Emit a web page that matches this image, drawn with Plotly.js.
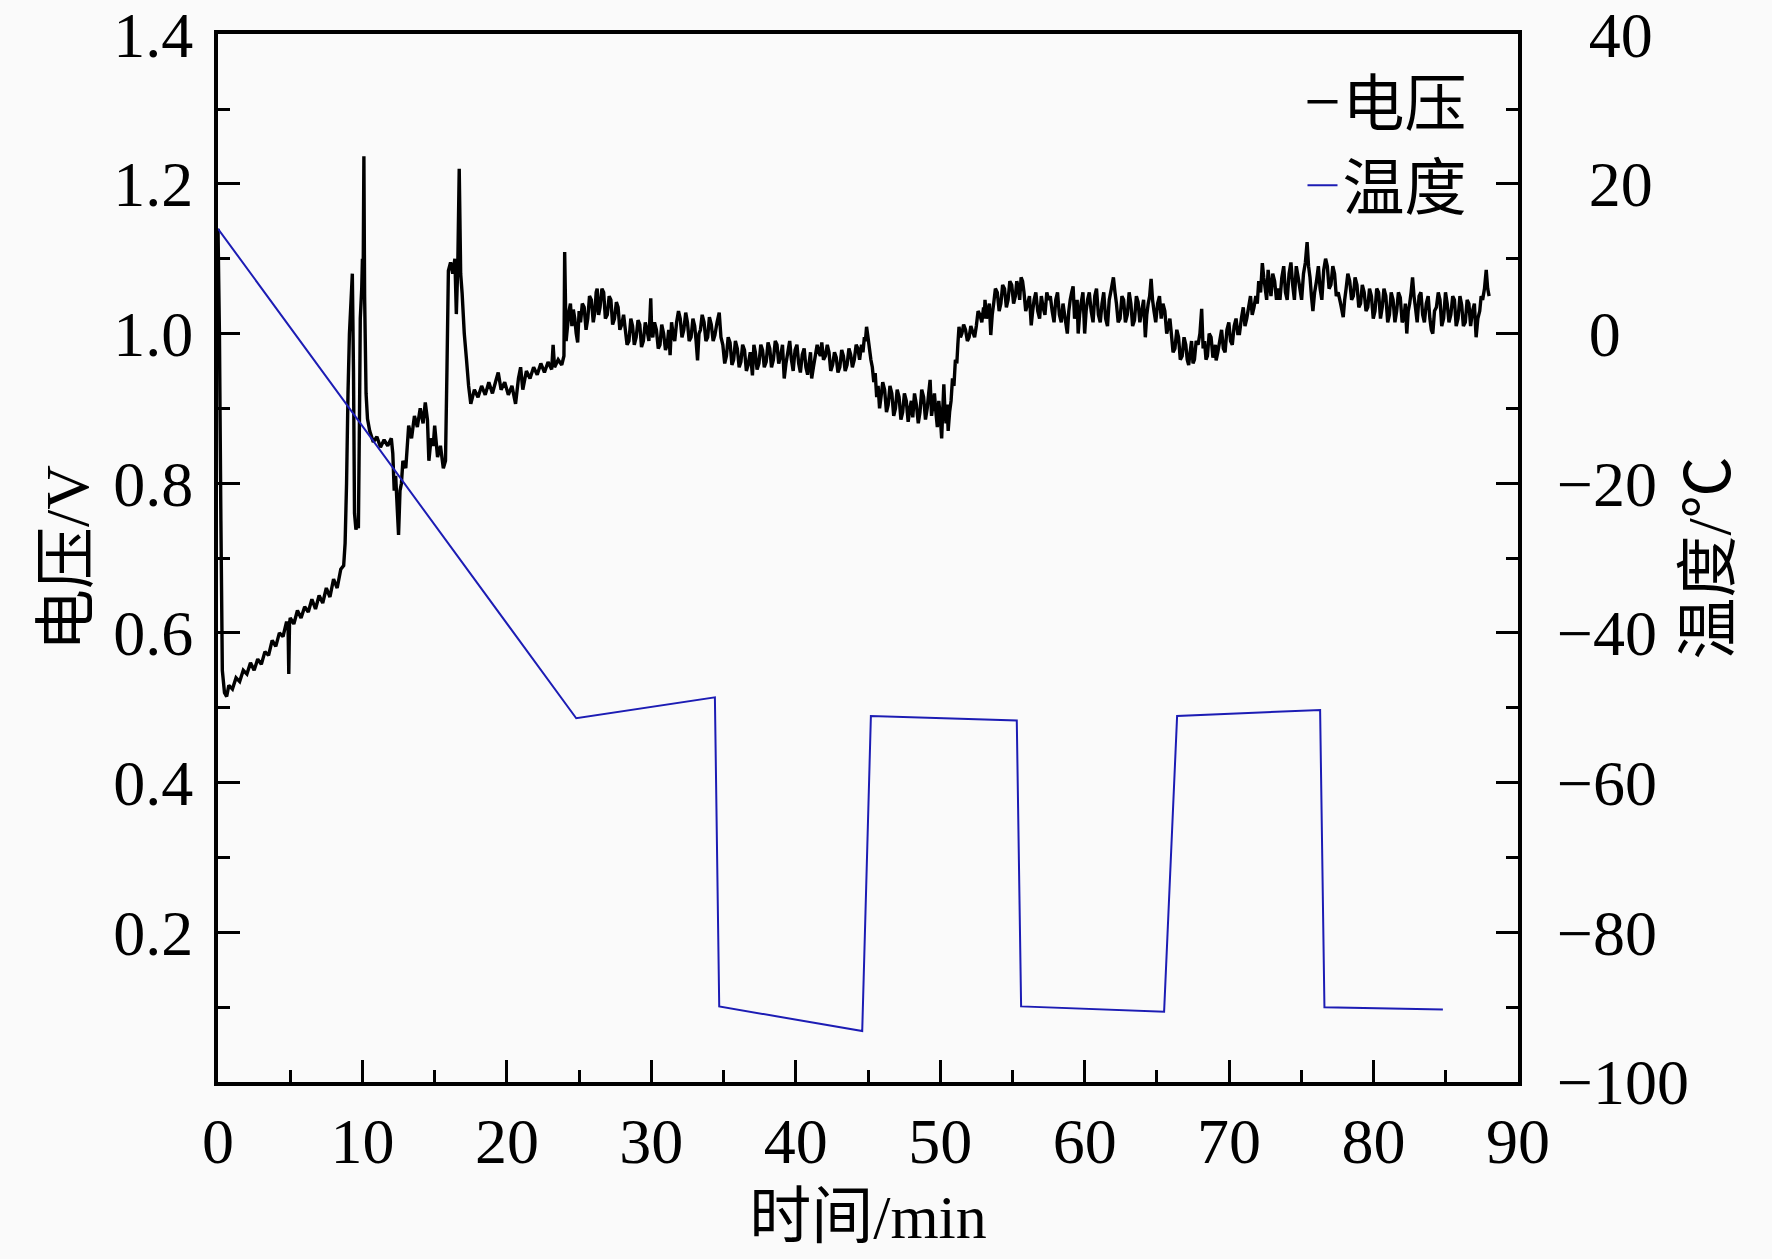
<!DOCTYPE html>
<html>
<head>
<meta charset="utf-8">
<script src="https://cdn.plot.ly/plotly-3.0.1.min.js"></script>
<style>
  html, body { margin: 0; padding: 0; background: #fafafa; }
</style>
</head>
<body>
<div id="chart"></div>
<script>
// voltage trace (min / V)
var voltTime = [
  0, 0.1, 0.2, 0.3, 0.45, 0.6,
  0.75, 1.0, 1.25, 1.5, 1.75, 2.0, 2.25, 2.5, 2.75, 3.0, 3.25, 3.5, 3.75, 4.0, 4.25, 4.5, 4.75, 4.85, 4.9, 4.95, 5.0, 5.25, 5.5, 5.75, 6.0, 6.25, 6.5, 6.75, 7.0, 7.25, 7.5, 7.75, 8.0, 8.25, 8.5, 8.7,
  8.8, 8.9, 9.0, 9.1, 9.2, 9.3, 9.38, 9.45, 9.55, 9.65, 9.72, 9.8, 9.85, 9.95, 10.0, 10.05, 10.1, 10.15, 10.25, 10.35,
  10.5, 10.75, 11.0, 11.25, 11.5, 11.75, 12.0, 12.1, 12.2, 12.3, 12.4, 12.5, 12.6, 12.7, 12.8, 13.0, 13.2, 13.4, 13.6, 13.8, 14.0, 14.2, 14.35, 14.5, 14.6, 14.75, 14.9, 15.0, 15.2, 15.4, 15.6, 15.75,
  15.85, 15.95, 16.1, 16.25, 16.4, 16.5, 16.6, 16.7, 16.8, 16.9, 17.05, 17.2, 17.35, 17.5,
  17.75, 18.0, 18.25, 18.5, 18.75, 19.0, 19.25, 19.4, 19.6, 19.85, 20.1, 20.35, 20.6, 20.8, 20.95, 21.1, 21.35, 21.6, 21.85, 22.1, 22.35, 22.6, 22.85, 23.1, 23.2, 23.3, 23.55, 23.8, 23.95, 24.0, 24.1, 24.3,
  24.4, 24.5, 24.6, 24.7, 24.8, 24.9, 25.0, 25.1, 25.22, 25.35, 25.48, 25.6, 25.72, 25.85, 25.98, 26.1, 26.18, 26.25, 26.35, 26.45, 26.58, 26.7, 26.82, 26.95, 27.08, 27.2, 27.32, 27.45, 27.58, 27.7, 27.82, 27.95,
  28.08, 28.2, 28.32, 28.45, 28.58, 28.7, 28.82, 28.95, 29.08, 29.2, 29.32, 29.45, 29.58, 29.7, 29.83, 29.96, 30.03, 30.1, 30.22, 30.35, 30.48, 30.6, 30.72, 30.85, 30.98, 31.1, 31.2, 31.3,
  31.4, 31.5, 31.62, 31.75, 31.88, 32.0, 32.12, 32.25, 32.38, 32.5, 32.62, 32.75, 32.88, 33.0, 33.1, 33.2, 33.3, 33.4, 33.52, 33.65, 33.78, 33.9, 34.02, 34.15, 34.28, 34.4, 34.55, 34.7,
  34.82, 34.95, 35.08, 35.2, 35.32, 35.45, 35.58, 35.7, 35.82, 35.95, 36.08, 36.2, 36.32, 36.45, 36.58, 36.7,
  36.85, 37.0, 37.1, 37.2, 37.32, 37.45, 37.58, 37.7, 37.82, 37.95, 38.08, 38.2, 38.32, 38.45, 38.58, 38.7,
  38.82, 38.95, 39.08, 39.2, 39.32, 39.45, 39.58, 39.7, 39.82, 39.95, 40.08, 40.2, 40.32, 40.45, 40.58, 40.7,
  40.82, 40.95, 41.02, 41.1, 41.22, 41.35, 41.48, 41.6, 41.7, 41.8, 41.92, 42.05, 42.18, 42.3, 42.42, 42.55,
  42.68, 42.8, 42.92, 43.05, 43.18, 43.3, 43.42, 43.55, 43.68, 43.8, 43.92, 44.05, 44.18, 44.3, 44.42, 44.55,
  44.65, 44.75, 44.82, 44.9,
  45.0, 45.1, 45.2, 45.3, 45.4, 45.5, 45.6, 45.7, 45.8, 45.9, 46.02, 46.15, 46.28, 46.4, 46.52, 46.65,
  46.78, 46.9, 47.02, 47.15, 47.28, 47.4, 47.52, 47.65, 47.78, 47.9, 48.0, 48.1, 48.22, 48.35, 48.48, 48.6,
  48.72, 48.85, 48.98, 49.1, 49.2, 49.3, 49.4, 49.5, 49.6, 49.7, 49.8, 49.9, 50.0, 50.1, 50.18, 50.25,
  50.32, 50.4, 50.48, 50.55, 50.65, 50.75, 50.85, 50.95, 51.05, 51.15, 51.22, 51.3,
  51.4, 51.5, 51.62, 51.75, 51.88, 52.0, 52.12, 52.25, 52.38, 52.5, 52.62, 52.75, 52.88, 53.0, 53.05, 53.1,
  53.2, 53.3, 53.4, 53.5, 53.6, 53.7, 53.82, 53.95, 54.08, 54.2, 54.32, 54.45, 54.58, 54.7, 54.82, 54.95,
  55.08, 55.2, 55.3, 55.4, 55.5, 55.6, 55.7, 55.8, 55.92, 56.05, 56.18, 56.3, 56.4, 56.5, 56.62, 56.75,
  56.88, 57.0, 57.12, 57.25, 57.38, 57.5,
  57.62, 57.75, 57.88, 58.0, 58.12, 58.25, 58.38, 58.5, 58.65, 58.8, 58.9, 59.0, 59.1, 59.2, 59.3, 59.4,
  59.48, 59.55, 59.65, 59.75, 59.88, 60.0, 60.1, 60.2, 60.32, 60.45, 60.58, 60.7, 60.82, 60.95, 61.08, 61.2,
  61.32, 61.45, 61.58, 61.7, 61.85, 61.99, 62.1, 62.2, 62.32, 62.45, 62.58, 62.7, 62.82, 62.95, 63.08, 63.2,
  63.32, 63.45, 63.58, 63.7, 63.82, 63.95, 64.08, 64.2, 64.3, 64.4, 64.5, 64.6, 64.7, 64.8, 64.92, 65.05,
  65.18, 65.3, 65.42, 65.55, 65.68, 65.8,
  65.9, 66.0, 66.12, 66.25, 66.38, 66.5, 66.62, 66.75, 66.88, 67.0, 67.1, 67.2, 67.3, 67.4, 67.5, 67.6,
  67.72, 67.85, 67.98, 68.1, 68.2, 68.3, 68.4, 68.5, 68.62, 68.75, 68.88, 69.0, 69.05, 69.1, 69.22, 69.35,
  69.48, 69.6, 69.72, 69.85, 69.98, 70.1, 70.22, 70.35, 70.48, 70.6,
  70.72, 70.85, 70.98, 71.1, 71.22, 71.35, 71.48, 71.6, 71.72, 71.85, 71.95, 72.05, 72.18, 72.3, 72.4, 72.5,
  72.6, 72.7, 72.8, 72.9, 73.02, 73.15, 73.28, 73.4,
  73.52, 73.65, 73.78, 73.9, 74.02, 74.15, 74.28, 74.4, 74.52, 74.65, 74.78, 74.9, 75.02, 75.15, 75.28, 75.4,
  75.5, 75.6, 75.7, 75.8, 75.92, 76.05, 76.18, 76.3, 76.42, 76.55, 76.68, 76.8, 76.92, 77.05, 77.18, 77.3,
  77.42, 77.55, 77.72, 77.9, 78.0, 78.1, 78.22, 78.35, 78.48, 78.6, 78.72, 78.85, 78.98, 79.1, 79.22, 79.35,
  79.48, 79.6,
  79.72, 79.85, 79.98, 80.1, 80.22, 80.35, 80.48, 80.6, 80.72, 80.85, 80.98, 81.1, 81.22, 81.35, 81.48, 81.6,
  81.72, 81.85, 81.98, 82.1, 82.2, 82.3, 82.4, 82.5, 82.6, 82.7, 82.8, 82.9, 83.02, 83.15, 83.28, 83.4,
  83.52, 83.65, 83.78, 83.9, 84.0, 84.1, 84.22, 84.35, 84.48, 84.6, 84.72, 84.85, 84.98, 85.1, 85.22, 85.35,
  85.48, 85.6, 85.72, 85.85, 85.98, 86.1, 86.22, 86.35, 86.48, 86.6, 86.72, 86.85, 86.98, 87.1, 87.22, 87.35,
  87.45, 87.55, 87.68, 87.8, 87.9, 88.0
];
var voltValue = [
  1.14, 1.0, 0.75, 0.55, 0.52, 0.515,
  0.53, 0.525, 0.54, 0.535, 0.55, 0.545, 0.56, 0.55, 0.565, 0.558, 0.575, 0.57, 0.59, 0.582, 0.6, 0.595, 0.615, 0.61, 0.545, 0.612, 0.62, 0.612, 0.63, 0.62, 0.635, 0.628, 0.645, 0.632, 0.65, 0.64, 0.66, 0.648, 0.672, 0.66, 0.685, 0.69,
  0.72, 0.80, 0.92, 1.0, 1.04, 1.08, 0.95, 0.76, 0.738, 0.745, 0.74, 0.9, 1.02, 1.06, 1.1, 1.08, 1.237, 1.05, 0.92, 0.886,
  0.87, 0.855, 0.862, 0.848, 0.858, 0.85, 0.86, 0.84, 0.79, 0.81, 0.77, 0.731, 0.79, 0.80, 0.83, 0.82, 0.877, 0.86, 0.89, 0.875, 0.9, 0.88, 0.908, 0.885, 0.83, 0.86, 0.85, 0.877, 0.835, 0.85, 0.82, 0.83,
  0.95, 1.084, 1.095, 1.08, 1.1, 1.026, 1.09, 1.22, 1.08, 1.054, 1.0, 0.966, 0.93, 0.906,
  0.925, 0.915, 0.93, 0.918, 0.935, 0.92, 0.938, 0.948, 0.925, 0.935, 0.918, 0.93, 0.906, 0.94, 0.955, 0.925, 0.95, 0.94, 0.955, 0.945, 0.96, 0.948, 0.962, 0.952, 0.985, 0.955, 0.965, 0.958, 0.97, 1.109, 0.99, 1.03,
  1.04, 1.01, 1.032, 1.02, 1.0, 0.988, 1.03, 1.015, 1.04, 1.035, 1.005, 1.02, 1.05, 1.045, 1.015, 1.03, 1.055, 1.06, 1.025, 1.035, 1.06, 1.055, 1.02, 1.025, 1.05, 1.045, 1.012, 1.02, 1.042, 1.035, 1.005, 1.012,
  1.025, 1.005, 0.985, 0.99, 1.02, 1.01, 0.985, 0.995, 1.018, 1.012, 0.982, 0.99, 1.015, 1.005, 0.99, 1.047, 1.0, 0.995, 1.015, 1.005, 0.98, 0.985, 1.012, 1.0, 0.978, 0.985, 1.005, 0.971,
  1.015, 1.0, 0.99, 1.015, 1.03, 1.02, 0.995, 1.005, 1.028, 1.015, 0.99, 0.995, 1.02, 1.01, 0.99, 0.964, 1.0, 1.005, 1.025, 1.015, 0.99, 0.995, 1.022, 1.012, 0.99, 0.998, 1.015, 1.028,
  0.995, 0.985, 0.96, 0.97, 0.995, 0.988, 0.958, 0.965, 0.99, 0.98, 0.955, 0.962, 0.985, 0.978, 0.95, 0.958,
  0.975, 0.944, 0.985, 0.975, 0.952, 0.96, 0.985, 0.978, 0.955, 0.962, 0.988, 0.98, 0.955, 0.965, 0.99, 0.985,
  0.96, 0.97, 0.985, 0.94, 0.96, 0.975, 0.99, 0.965, 0.95, 0.978, 0.985, 0.96, 0.948, 0.972, 0.98, 0.955,
  0.945, 0.965, 0.975, 0.94, 0.955, 0.97, 0.985, 0.975, 0.97, 0.988, 0.965, 0.97, 0.985, 0.975, 0.95, 0.958,
  0.975, 0.968, 0.948, 0.955, 0.978, 0.97, 0.95, 0.958, 0.98, 0.972, 0.955, 0.965, 0.985, 0.98, 0.965, 0.985,
  0.975, 0.995, 0.99, 1.009,
  0.995, 0.98, 0.965, 0.955, 0.935, 0.947, 0.915, 0.93, 0.9, 0.915, 0.935, 0.925, 0.895, 0.905, 0.93, 0.92,
  0.89, 0.9, 0.925, 0.915, 0.885, 0.895, 0.92, 0.91, 0.882, 0.9, 0.91, 0.888, 0.92, 0.905, 0.88, 0.895,
  0.925, 0.915, 0.885, 0.9, 0.92, 0.938, 0.89, 0.905, 0.92, 0.895, 0.875, 0.91, 0.89, 0.86, 0.9, 0.932,
  0.9, 0.88, 0.905, 0.87, 0.895, 0.91, 0.94, 0.93, 0.965, 0.96, 0.985, 1.009,
  0.995, 1.0, 1.012, 1.005, 0.99, 0.995, 1.01, 1.002, 0.995, 1.01, 1.03, 1.025, 1.015, 1.035, 1.02, 1.045,
  1.02, 1.03, 1.04, 0.998, 1.025, 1.04, 1.06, 1.055, 1.03, 1.04, 1.065, 1.06, 1.035, 1.045, 1.07, 1.065,
  1.04, 1.05, 1.07, 1.062, 1.045, 1.075, 1.07, 1.055, 1.03, 1.04, 1.05, 1.011, 1.03, 1.045, 1.055, 1.03,
  1.02, 1.05, 1.035, 1.025, 1.055, 1.045,
  1.05, 1.03, 1.015, 1.045, 1.055, 1.025, 1.015, 1.04, 1.02, 1.0, 1.03, 1.045, 1.055, 1.063, 1.02, 1.03,
  1.045, 1.0, 1.025, 1.04, 1.055, 1.0, 1.03, 1.045, 1.055, 1.03, 1.015, 1.05, 1.06, 1.025, 1.015, 1.04,
  1.055, 1.02, 1.01, 1.045, 1.06, 1.075, 1.055, 1.04, 1.015, 1.02, 1.05, 1.045, 1.015, 1.025, 1.055, 1.04,
  1.01, 1.018, 1.05, 1.042, 1.015, 1.03, 1.045, 0.995, 1.025, 1.04, 1.05, 1.073, 1.045, 1.03, 1.015, 1.04,
  1.05, 1.02, 1.04, 1.03, 1.0, 1.01,
  1.02, 1.0, 0.975, 0.98, 1.005, 0.995, 0.965, 0.97, 0.995, 0.985, 0.965, 0.958, 0.975, 0.99, 0.96, 0.965,
  0.99, 0.985, 1.0, 1.033, 0.98, 0.99, 0.965, 0.97, 1.0, 0.995, 0.968, 0.975, 0.985, 0.964, 0.975, 0.99,
  1.005, 0.98, 0.975, 1.005, 1.015, 0.99, 0.985, 1.01, 1.02, 1.0,
  1.0, 1.02, 1.035, 1.01, 1.02, 1.035, 1.05, 1.025, 1.035, 1.05, 1.04, 1.07, 1.055, 1.094, 1.075, 1.06,
  1.045, 1.085, 1.065, 1.05, 1.08, 1.07, 1.045, 1.06,
  1.045, 1.075, 1.09, 1.055, 1.045, 1.08, 1.095, 1.065, 1.045, 1.09, 1.075, 1.06, 1.045, 1.08, 1.095, 1.122,
  1.09, 1.075, 1.05, 1.03, 1.055, 1.07, 1.09, 1.06, 1.045, 1.085, 1.1, 1.09, 1.06, 1.065, 1.09, 1.08,
  1.05, 1.055, 1.04, 1.022, 1.045, 1.06, 1.08, 1.07, 1.045, 1.05, 1.075, 1.065, 1.035, 1.04, 1.065, 1.055,
  1.03, 1.035,
  1.06, 1.05, 1.02, 1.03, 1.06, 1.055, 1.02, 1.035, 1.06, 1.05, 1.015, 1.025, 1.055, 1.045, 1.015, 1.03,
  1.055, 1.048, 1.015, 1.02, 1.04, 1.0, 1.03, 1.04, 1.055, 1.075, 1.05, 1.035, 1.015, 1.05, 1.055, 1.025,
  1.015, 1.04, 1.05, 1.02, 1.005, 1.0, 1.03, 1.035, 1.055, 1.045, 1.01, 1.02, 1.055, 1.04, 1.015, 1.025,
  1.05, 1.045, 1.01, 1.02, 1.05, 1.038, 1.01, 1.015, 1.045, 1.04, 1.01, 1.03, 1.04, 0.995, 1.02, 1.03,
  1.05, 1.045, 1.06, 1.085, 1.06, 1.05
];

// temperature trace (min / °C)
var tempTime  = [0, 24.8, 34.4, 34.7, 44.6, 45.2, 55.3, 55.6, 65.5, 66.4, 76.3, 76.6, 84.8];
var tempValue = [14, -51.4, -48.6, -89.9, -93.2, -51.1, -51.7, -89.9, -90.6, -51.1, -50.3, -90.0, -90.3];

var voltTicks = [0.2, 0.4, 0.6, 0.8, 1.0, 1.2, 1.4];
var voltTickText = ['0.2', '0.4', '0.6', '0.8', '1.0', '1.2', '1.4'];
var tempTicks = [-100, -80, -60, -40, -20, 0, 20, 40];
var tempTickText = ['\u2212100', '\u221280', '\u221260', '\u221240', '\u221220', '\u20020', '\u200220', '\u200240'];

var FONT = '"Liberation Serif", "Times New Roman", "Noto Sans CJK SC", serif';

var traces = [
  {
    x: voltTime, y: voltValue, name: '电压',
    type: 'scatter', mode: 'lines',
    line: {color: '#000000', width: 3.4, simplify: false}
  },
  {
    x: tempTime, y: tempValue, name: '温度', yaxis: 'y2',
    type: 'scatter', mode: 'lines',
    line: {color: '#1c1cb4', width: 2}
  }
];

var axisBase = {
  showline: true, linewidth: 4, linecolor: '#000',
  ticks: 'inside', ticklen: 22, tickwidth: 3, tickcolor: '#000',
  ticklabeloverflow: 'allow',
  showgrid: false, zeroline: false, automargin: false
};

var layout = {
  width: 1772, height: 1259,
  paper_bgcolor: '#fafafa', plot_bgcolor: '#fafafa',
  margin: {l: 218, r: 254, t: 34, b: 177},
  font: {family: FONT, size: 64, color: '#000'},
  showlegend: true,
  legend: {
    x: 0.965, xanchor: 'right', y: 0.98, yanchor: 'top',
    bgcolor: 'rgba(0,0,0,0)', font: {size: 62}, tracegroupgap: 0
  },
  xaxis: Object.assign({}, axisBase, {
    range: [0, 90], tick0: 0, dtick: 10, mirror: true,
    ticklabelstandoff: 0,
    minor: {tick0: 0, dtick: 5, ticks: 'inside', ticklen: 12, tickwidth: 3, tickcolor: '#000'},
    title: {text: '时间/min', font: {size: 62}, standoff: 20}
  }),
  yaxis: Object.assign({}, axisBase, {
    range: [0, 1.4002], tickmode: 'array', tickvals: voltTicks, ticktext: voltTickText,
    ticklabelstandoff: 8,
    minor: {tickmode: 'linear', tick0: 0, dtick: 0.1, ticks: 'inside', ticklen: 12, tickwidth: 3, tickcolor: '#000'},
    title: {text: '电压/V', font: {size: 62}, standoff: 6}
  }),
  yaxis2: Object.assign({}, axisBase, {
    overlaying: 'y', side: 'right',
    range: [-100, 40.02], tickmode: 'array', tickvals: tempTicks, ticktext: tempTickText,
    ticklabelstandoff: 22,
    minor: {tickmode: 'linear', tick0: 0, dtick: 10, ticks: 'inside', ticklen: 12, tickwidth: 3, tickcolor: '#000'},
    title: {text: '温度/℃', font: {size: 62}, standoff: 0}
  })
};

Plotly.newPlot('chart', traces, layout, {displayModeBar: false});
</script>
</body>
</html>
